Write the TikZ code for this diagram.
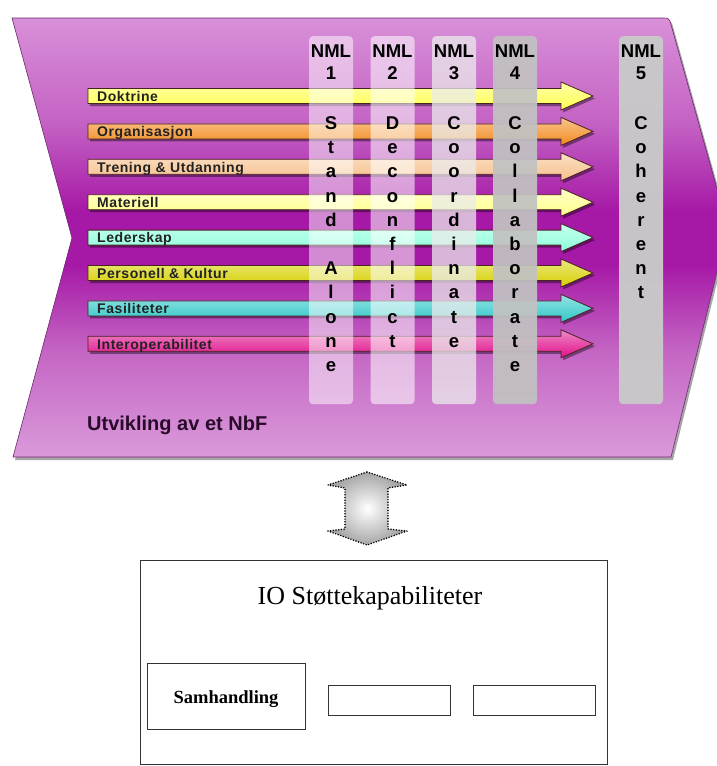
\documentclass[tikz,border=0pt]{standalone}
\usepackage{fontspec}
\setmainfont{Liberation Serif}
\newfontfamily\barfont[LetterSpace=4]{Liberation Sans}
\newfontfamily\headfont{Liberation Sans}
\usetikzlibrary{calc}

\definecolor{chevtop}{HTML}{D890D8}
\definecolor{chevuptop}{HTML}{C462C4}
\definecolor{chevmid}{HTML}{A618A6}
\definecolor{chevlowbot}{HTML}{C466C4}
\definecolor{chevbot}{HTML}{DA9ADA}
\definecolor{chevedge}{HTML}{6A2A6A}
\definecolor{arrowedge}{HTML}{4A2222}
\definecolor{cDok}{HTML}{FFFF50}
\definecolor{cOrg}{HTML}{F28A1E}
\definecolor{cTre}{HTML}{F6C08C}
\definecolor{cMat}{HTML}{FFFF8C}
\definecolor{cLed}{HTML}{8CFFDC}
\definecolor{cPer}{HTML}{D6D000}
\definecolor{cFas}{HTML}{2EC6C8}
\definecolor{cInt}{HTML}{E0108C}
\definecolor{labeltext}{HTML}{222222}
\definecolor{titletext}{HTML}{2A0A2A}

% light at the edges, deep purple through the middle band
\pgfdeclareverticalshading{chevshade}{100bp}{
  color(0bp)=(chevbot); color(25bp)=(chevbot); color(37bp)=(chevlowbot);
  color(47bp)=(chevmid); color(53bp)=(chevmid); color(63bp)=(chevuptop);
  color(75bp)=(chevtop); color(100bp)=(chevtop)}

\tikzset{
  barlabel/.style={anchor=base west, inner sep=0pt, text=labeltext,
    font=\barfont\bfseries\fontsize{14}{16}\selectfont},
  nmlcol/.style={rounded corners=4pt, minimum width=44pt, minimum height=368pt,
    anchor=north, inner sep=0pt},
  nmltext/.style={anchor=base, inner sep=0pt, text=black,
    font=\headfont\bfseries\fontsize{18.5}{20}\selectfont},
  plainbox/.style={draw=black!80, line width=0.8pt, inner sep=0pt, anchor=north west},
}

\begin{document}
\begin{tikzpicture}[x=1pt,y=-1pt]
\useasboundingbox (0,0) rectangle (717,766);
\fill[white] (0,0) rectangle (717,766);

% purple chevron background
\begin{scope}
  \clip (0,0) rectangle (717,766);
  \fill[black, opacity=0.35] (14,20) -- (666,20) -- (672,23) -- (730,230) -- (673,460) -- (15,460) -- (74,240) -- cycle;
  \shade[shading=chevshade, draw=chevedge, line width=0.6pt]
    (12,18) -- (664,18) .. controls (668,18) and (669,19) .. (670,21) -- (728,228) -- (671,457) -- (13,457) -- (72,238) -- cycle;
\end{scope}

% capability arrows
\foreach \yy/\col/\lab/\nm in {96/cDok/Doktrine/dok,
    131.4/cOrg/Organisasjon/org,
    166.8/cTre/{Trening \& Utdanning}/tre,
    202.2/cMat/Materiell/mat,
    237.6/cLed/Lederskap/led,
    273/cPer/{Personell \& Kultur}/per,
    308.4/cFas/Fasiliteter/fas,
    343.8/cInt/Interoperabilitet/int}{
  \fill[black, opacity=0.4, shift={(2,2.5)}]
    (88,\yy-7.5) -- (561,\yy-7.5) -- (561,\yy-14) -- (593,\yy) -- (561,\yy+14) -- (561,\yy+7.5) -- (88,\yy+7.5) -- cycle;
  \shade[top color=\col!50!white, bottom color=\col, draw=arrowedge, line width=0.8pt]
    (88,\yy-7.5) -- (561,\yy-7.5) -- (561,\yy-14) -- (593,\yy) -- (561,\yy+14) -- (561,\yy+7.5) -- (88,\yy+7.5) -- cycle;
  \node[barlabel] (\nm) at (97,\yy+5.3) {\lab};
}

% maturity level columns
\node[nmlcol, fill=white, fill opacity=0.5] (nml1) at (331,36) {};
\node[nmlcol, fill=white, fill opacity=0.55] (nml2) at (392.5,36) {};
\node[nmlcol, fill=black!8, fill opacity=0.75] (nml3) at (454,36) {};
\node[nmlcol, fill=black!24, fill opacity=0.93] (nml4) at (515,36) {};
\node[nmlcol, fill=black!21, fill opacity=0.97] (nml5) at (641,36) {};

\foreach \cx/\num/\word/\id in {331/1/{S,t,a,n,d,{},A,l,o,n,e}/c1,
    392.5/2/{D,e,c,o,n,f,l,i,c,t}/c2,
    454/3/{C,o,o,r,d,i,n,a,t,e}/c3,
    515/4/{C,o,l,l,a,b,o,r,a,t,e}/c4,
    641/5/{C,o,h,e,r,e,n,t}/c5}{
  \node[nmltext] (\id h) at (\cx,57) {NML};
  \node[nmltext] (\id n) at (\cx,79.5) {\num};
  \foreach \ch [count=\i from 0] in \word
    \node[nmltext] (\id l\i) at (\cx,129.5+24.2*\i) {\ch};
}

\node[anchor=base west, inner sep=0pt, text=titletext,
  font=\headfont\bfseries\fontsize{20}{24}\selectfont] (nbf) at (87,430) {Utvikling av et NbF};

% two-way block arrow
\shade[inner color=white, outer color=black!35, draw=black, line width=1.7pt, line cap=round,
  dash pattern=on 0pt off 2.7pt]
  (367,472) -- (407,485) -- (388,488) -- (388,529) -- (407,531) -- (367,545)
  -- (328,531) -- (345,529) -- (345,488) -- (328,485) -- cycle;

% support capabilities
\node[plainbox, minimum width=467pt, minimum height=204pt] (io) at (140,560) {};
\node[anchor=base, inner sep=0pt, font=\fontsize{26}{30}\selectfont] (iotitle) at (370,604) {IO Støttekapabiliteter};
\node[plainbox, minimum width=158pt, minimum height=66pt] (samh) at (147,663) {};
\node[anchor=base, inner sep=0pt, font=\bfseries\fontsize{18.5}{22}\selectfont] (samhtext) at (226,703) {Samhandling};
\node[plainbox, minimum width=122pt, minimum height=30pt] (cap2) at (328,685) {};
\node[plainbox, minimum width=122pt, minimum height=30pt] (cap3) at (473,685) {};
\end{tikzpicture}
\end{document}
